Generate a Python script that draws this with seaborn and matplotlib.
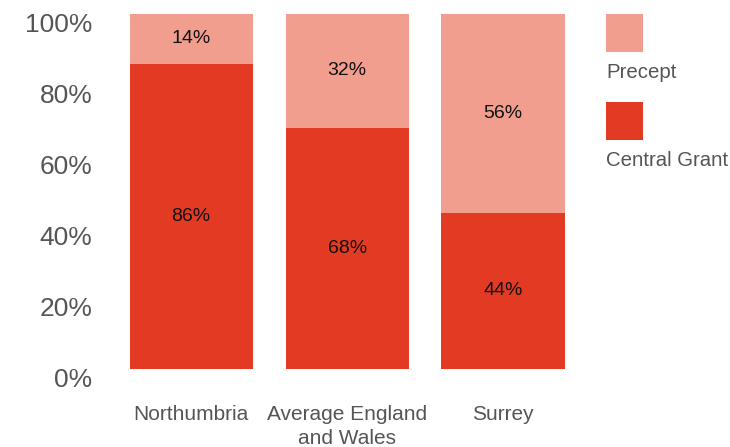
import matplotlib
matplotlib.use("Agg")
import matplotlib.pyplot as plt
import matplotlib.transforms as mtransforms
from matplotlib.patches import Rectangle
import seaborn as sns
import pandas as pd

categories = ["Northumbria", "Average England\nand Wales", "Surrey"]
central_grant = [86, 68, 44]
precept = [14, 32, 56]
series_names = ["Precept", "Central Grant"]
y_ticks = [0, 20, 40, 60, 80, 100]

light = "#F29E8F"
dark = "#E33A24"
grey = "#555555"

sns.set_theme(style="white")
plt.rcParams["font.family"] = ["Liberation Sans", "DejaVu Sans"]

df = pd.DataFrame({
    "category": categories,
    "grant": central_grant,
    "total": [g + p for g, p in zip(central_grant, precept)],
})

fig = plt.figure(figsize=(7.3, 4.47), dpi=100)
ax = fig.add_axes([0.155, 0.1745, 0.641, 0.7945])

sns.barplot(data=df, x="category", y="total", color=light, width=0.79,
            saturation=1, ax=ax, linewidth=0)
sns.barplot(data=df, x="category", y="grant", color=dark, width=0.79,
            saturation=1, ax=ax, linewidth=0)

for i, (g, p) in enumerate(zip(central_grant, precept)):
    ax.text(i, g / 2, f"{g}%", ha="center", va="center", fontsize=14, color="#111111")
    ax.text(i, g + p / 2, f"{p}%", ha="center", va="center", fontsize=14, color="#111111")

ax.set_ylim(0, 100)
ax.set_xlim(-0.5, 2.5)
ax.set_yticks(y_ticks)
ax.set_yticklabels([f"{t}%" for t in y_ticks], fontsize=19, color=grey)
ax.tick_params(axis="y", length=0, pad=15)
ax.tick_params(axis="x", length=0, pad=26, labelsize=15, labelcolor=grey)
ax.set_xlabel("")
ax.set_ylabel("")
for lab in ax.get_xticklabels():
    lab.set_linespacing(1.35)
shift = mtransforms.ScaledTranslation(0, -9 / 100, fig.dpi_scale_trans)
for lab in ax.get_yticklabels():
    lab.set_transform(lab.get_transform() + shift)
sns.despine(ax=ax, left=True, bottom=True)

# legend: swatch with its label underneath
W, H = 730, 447
for (name, col, top) in [("Precept", light, 14), ("Central Grant", dark, 102)]:
    fig.add_artist(Rectangle((606 / W, 1 - (top + 38) / H), 37 / W, 38 / H,
                             transform=fig.transFigure, color=col, lw=0))
    fig.text(606 / W, 1 - (top + 58) / H, name, ha="left", va="center",
             fontsize=14.7, color=grey)

fig.savefig("out.png", dpi=100)
